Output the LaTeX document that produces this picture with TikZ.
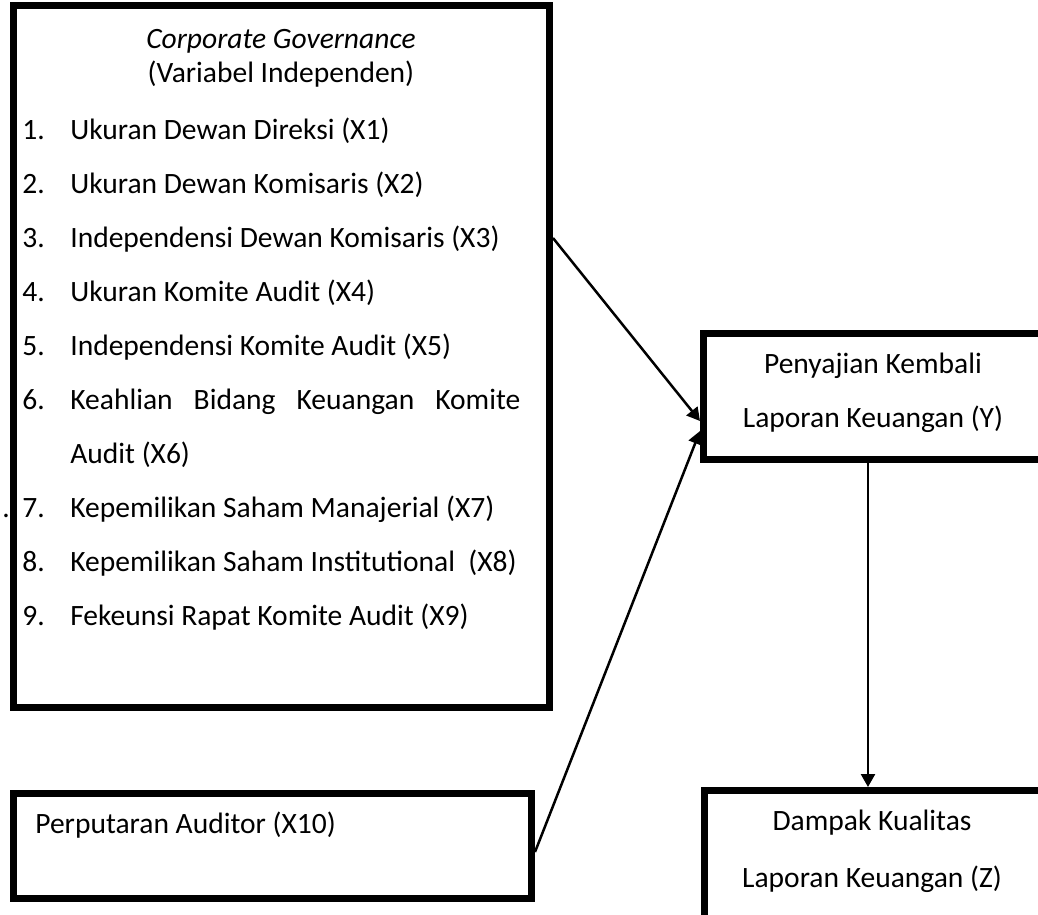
\documentclass[tikz,border=0pt]{standalone}
\usepackage{fontspec}
\setmainfont{Carlito}
\usetikzlibrary{arrows.meta}
\begin{document}
\begin{tikzpicture}[x=0.02cm, y=-0.02cm, font=\fontsize{16.8}{20}\selectfont,
		kotak/.style={draw, line width=0.14cm, inner sep=0pt},
		baris/.style={anchor=base west, inner sep=0pt},
		judul/.style={anchor=base, inner sep=0pt},
		panah/.style={line width=0.05cm, -{Triangle[length=0.26cm, width=0.28cm]}}]
	\clip (0,0) rectangle (1038,914);
	% kotak-kotak
	\node[kotak, minimum width=536*0.02cm, minimum height=702*0.02cm] (cg) at (281.5,356) {};
	\node[kotak, minimum width=518*0.02cm, minimum height=105*0.02cm] (rot) at (272.5,846) {};
	\node[kotak, minimum width=339*0.02cm, minimum height=126*0.02cm] (saji) at (873,396.5) {};
	\node[kotak, minimum width=339*0.02cm, minimum height=200*0.02cm] (dampak) at (874,890.5) {};
	% teks kotak kiri
	\node[judul] (cgjudul) at (281,48) {\itshape Corporate Governance};
	\node[judul] (cgvar) at (281,82) {(Variabel Independen)};
	\node[baris] (n1) at (22,139) {1.};
	\node[baris] (x1) at (70,139) {Ukuran Dewan Direksi (X1)};
	\node[baris] (n2) at (22,193.1) {2.};
	\node[baris] (x2) at (70,193.1) {Ukuran Dewan Komisaris (X2)};
	\node[baris] (n3) at (22,247.2) {3.};
	\node[baris] (x3) at (70,247.2) {Independensi Dewan Komisaris (X3)};
	\node[baris] (n4) at (22,301.3) {4.};
	\node[baris] (x4) at (70,301.3) {Ukuran Komite Audit (X4)};
	\node[baris] (n5) at (22,355.4) {5.};
	\node[baris] (x5) at (70,355.4) {Independensi Komite Audit (X5)};
	\node[baris] (n6) at (22,409.5) {6.};
	\node[baris, text width=450*0.02cm] (x6) at (70,409.5) {Keahlian\hfill Bidang\hfill Keuangan\hfill Komite};
	\node[baris] (x6b) at (70,463.6) {Audit (X6)};
	\node[baris] (titik) at (2,517.7) {.};
	\node[baris] (n7) at (22,517.7) {7.};
	\node[baris] (x7) at (70,517.7) {Kepemilikan Saham Manajerial (X7)};
	\node[baris] (n8) at (22,571.8) {8.};
	\node[baris] (x8) at (70,571.8) {Kepemilikan Saham Institutional\ \ (X8)};
	\node[baris] (n9) at (22,625.9) {9.};
	\node[baris] (x9) at (70,625.9) {Fekeunsi Rapat Komite Audit (X9)};
	% teks kotak lain
	\node[baris] (x10) at (35,833) {Perputaran Auditor (X10)};
	\node[judul] (y1) at (873,373) {Penyajian Kembali};
	\node[judul] (y2) at (873,427) {Laporan Keuangan (Y)};
	\node[judul] (z1) at (872,830) {Dampak Kualitas};
	\node[judul] (z2) at (872,887) {Laporan Keuangan (Z)};
	% panah
	\draw[panah] (cg.east |- 0,238) -- (saji.west |- 0,421);
	\draw[panah] (rot.east |- 0,852) -- (saji.west |- 0,431);
	\draw[panah] (saji.south -| 868,0) -- (dampak.north -| 868,0);
\end{tikzpicture}
\end{document}
